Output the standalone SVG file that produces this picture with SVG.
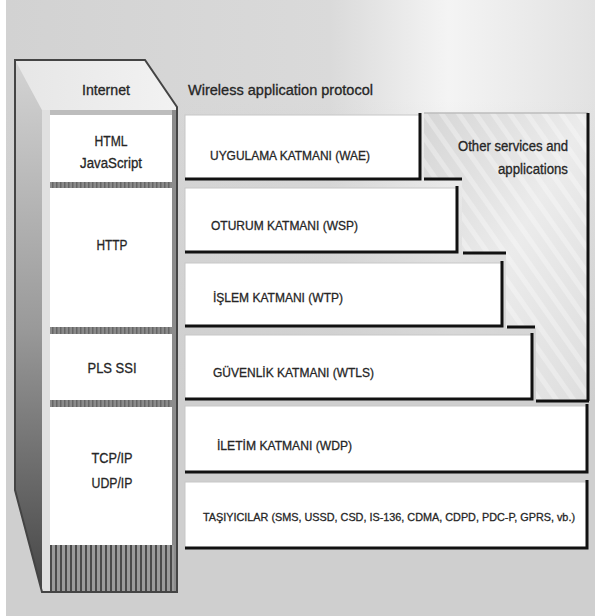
<svg xmlns="http://www.w3.org/2000/svg" width="595" height="616" viewBox="0 0 595 616">
<defs>
<linearGradient id="bg" x1="0" y1="0" x2="1" y2="0">
<stop offset="0" stop-color="#d2d2d2"/><stop offset="0.55" stop-color="#dadada"/><stop offset="0.75" stop-color="#f4f4f4"/><stop offset="1" stop-color="#e2e2e2"/>
</linearGradient>
<linearGradient id="bgv" x1="0" y1="0" x2="0" y2="1">
<stop offset="0" stop-color="#cfcfcf" stop-opacity="0"/><stop offset="1" stop-color="#cfcfcf" stop-opacity="1"/>
</linearGradient>
<linearGradient id="leftface" x1="0" y1="0" x2="0" y2="1">
<stop offset="0" stop-color="#d4d4d4"/><stop offset="0.5" stop-color="#9a9a9a"/><stop offset="1" stop-color="#454545"/>
</linearGradient>
<linearGradient id="topface" x1="0" y1="0" x2="1" y2="0">
<stop offset="0" stop-color="#e6e6e6"/><stop offset="1" stop-color="#f2f2f2"/>
</linearGradient>
<linearGradient id="other" x1="0" y1="0" x2="1" y2="1">
<stop offset="0" stop-color="#d6d6d6"/><stop offset="0.5" stop-color="#ebebeb"/><stop offset="1" stop-color="#dedede"/>
</linearGradient>
<pattern id="stripes" width="14" height="14" patternUnits="userSpaceOnUse" patternTransform="rotate(-35)">
<rect width="14" height="14" fill="none"/><rect width="5" height="14" fill="#ffffff" opacity="0.5"/>
</pattern>
<pattern id="vhatch" width="5" height="10" patternUnits="userSpaceOnUse">
<rect width="5" height="10" fill="#9a9a9a"/><rect width="2" height="10" fill="#4a4a4a"/>
</pattern>
<pattern id="hhatch" width="4" height="6" patternUnits="userSpaceOnUse">
<rect width="4" height="6" fill="#8a8a8a"/><rect width="1.5" height="6" fill="#666"/>
</pattern>
</defs>
<style>
.t{font-family:"Liberation Sans Narrow","Liberation Sans",Arial,sans-serif;fill:#262626;stroke:#262626;stroke-width:0.3;}
.lay{fill:#ffffff;stroke:#c8c8c8;stroke-width:1;}
.blk{stroke:#111;stroke-width:3;fill:none;}
.wbox{fill:#ffffff;}
.sep{fill:url(#hhatch);}
</style>

<!-- background -->
<rect x="0" y="0" width="595" height="616" fill="#ffffff"/>
<rect x="6" y="0" width="589" height="616" fill="#cfcfcf"/>
<rect x="6" y="0" width="589" height="400" fill="url(#bg)"/>
<rect x="6" y="100" width="589" height="300" fill="url(#bgv)"/>

<!-- Internet column -->
<g id="internet">
<polygon points="15,60 42,110 42,592 15,490" fill="url(#leftface)"/>
<polygon points="15,60 145,60 177,107 177,110 42,110" fill="url(#topface)"/>
<rect x="42" y="110" width="135" height="482" fill="#bdbdbd"/>
<rect x="42" y="110" width="8" height="482" fill="#e0e0e0"/>
<rect x="172" y="110" width="5" height="482" fill="#8c8c8c"/>
<path d="M15,60 L145,60 L177,107 L177,592 L42,592 L15,490 Z" fill="none" stroke="#444" stroke-width="2"/>
<text class="t" x="106" y="95" font-size="14" text-anchor="middle" textLength="48" lengthAdjust="spacingAndGlyphs">Internet</text>
</g>

<g id="html">
<rect class="wbox" x="50" y="115" width="122" height="67"/>
<text class="t" x="111" y="146" font-size="14" text-anchor="middle" textLength="33" lengthAdjust="spacingAndGlyphs">HTML</text>
<text class="t" x="111" y="168" font-size="14" text-anchor="middle" textLength="62" lengthAdjust="spacingAndGlyphs">JavaScript</text>
</g>
<rect class="sep" x="50" y="182" width="122" height="6"/>

<g id="http">
<rect class="wbox" x="50" y="188" width="122" height="139"/>
<text class="t" x="112" y="250" font-size="14" text-anchor="middle" textLength="31" lengthAdjust="spacingAndGlyphs">HTTP</text>
</g>
<rect class="sep" x="50" y="327" width="122" height="7"/>

<g id="pls">
<rect class="wbox" x="50" y="334" width="122" height="66"/>
<text class="t" x="112" y="373" font-size="14" text-anchor="middle" textLength="49" lengthAdjust="spacingAndGlyphs">PLS SSI</text>
</g>
<rect class="sep" x="50" y="400" width="122" height="7"/>

<g id="tcp">
<rect class="wbox" x="50" y="407" width="122" height="138"/>
<text class="t" x="112" y="463" font-size="14" text-anchor="middle" textLength="41" lengthAdjust="spacingAndGlyphs">TCP/IP</text>
<text class="t" x="112" y="488" font-size="14" text-anchor="middle" textLength="41" lengthAdjust="spacingAndGlyphs">UDP/IP</text>
</g>
<rect x="50" y="545" width="124" height="46" fill="url(#vhatch)"/>

<!-- WAP title -->
<text class="t" x="188" y="95" font-size="14" textLength="185" lengthAdjust="spacingAndGlyphs">Wireless application protocol</text>

<!-- Other services -->
<g id="other-services">
<polygon points="424,113 588,113 588,400 536,400 536,328 506,328 506,253 462,253 462,180 424,180" fill="url(#other)"/>
<polygon points="424,113 588,113 588,400 536,400 536,328 506,328 506,253 462,253 462,180 424,180" fill="url(#stripes)" opacity="0.6"/>
<line x1="424" y1="113" x2="588" y2="113" stroke="#bcbcbc" stroke-width="1.5"/>
<line class="blk" x1="588" y1="113" x2="588" y2="401"/>
<text class="t" x="568" y="151" font-size="14" text-anchor="end" textLength="110" lengthAdjust="spacingAndGlyphs">Other services and</text>
<text class="t" x="568" y="174" font-size="14" text-anchor="end" textLength="70" lengthAdjust="spacingAndGlyphs">applications</text>
</g>

<!-- WAP layers -->
<g id="wae">
<rect class="lay" x="185" y="115" width="235" height="64"/>
<path class="blk" d="M185,179 L420,179 L420,113"/>
<text class="t" x="210" y="160" font-size="13" textLength="160" lengthAdjust="spacingAndGlyphs">UYGULAMA KATMANI (WAE)</text>
</g>
<g id="wsp">
<rect class="lay" x="185" y="188" width="272" height="64"/>
<path class="blk" d="M185,252 L457,252 L457,186"/>
<text class="t" x="211" y="230" font-size="13" textLength="147" lengthAdjust="spacingAndGlyphs">OTURUM KATMANI (WSP)</text>
</g>
<g id="wtp">
<rect class="lay" x="185" y="263" width="317" height="63"/>
<path class="blk" d="M185,326 L502,326 L502,261"/>
<text class="t" x="213" y="302" font-size="13" textLength="130" lengthAdjust="spacingAndGlyphs">İŞLEM KATMANI (WTP)</text>
</g>
<g id="wtls">
<rect class="lay" x="185" y="335" width="347" height="64"/>
<path class="blk" d="M185,399 L532,399 L532,333"/>
<text class="t" x="213" y="377" font-size="13" textLength="161" lengthAdjust="spacingAndGlyphs">GÜVENLİK KATMANI (WTLS)</text>
</g>
<g id="wdp">
<rect class="lay" x="185" y="406" width="402" height="66"/>
<path class="blk" d="M185,472 L587,472 L587,404"/>
<text class="t" x="217" y="450" font-size="13" textLength="135" lengthAdjust="spacingAndGlyphs">İLETİM KATMANI (WDP)</text>
</g>
<g id="bearers">
<rect class="lay" x="185" y="482" width="402" height="66"/>
<path class="blk" d="M185,548 L587,548 L587,480"/>
<text class="t" x="203" y="521" font-size="11.2" textLength="372" lengthAdjust="spacingAndGlyphs">TAŞIYICILAR (SMS, USSD, CSD, IS-136, CDMA, CDPD, PDC-P, GPRS, vb.)</text>
</g>

<!-- step lines -->
<g id="connectors">
<line class="blk" x1="424" y1="179" x2="462" y2="179"/>
<line class="blk" x1="463" y1="253" x2="506" y2="253"/>
<line class="blk" x1="507" y1="327" x2="535" y2="327"/>
<line class="blk" x1="536" y1="401" x2="589" y2="401"/>
</g>
</svg>
